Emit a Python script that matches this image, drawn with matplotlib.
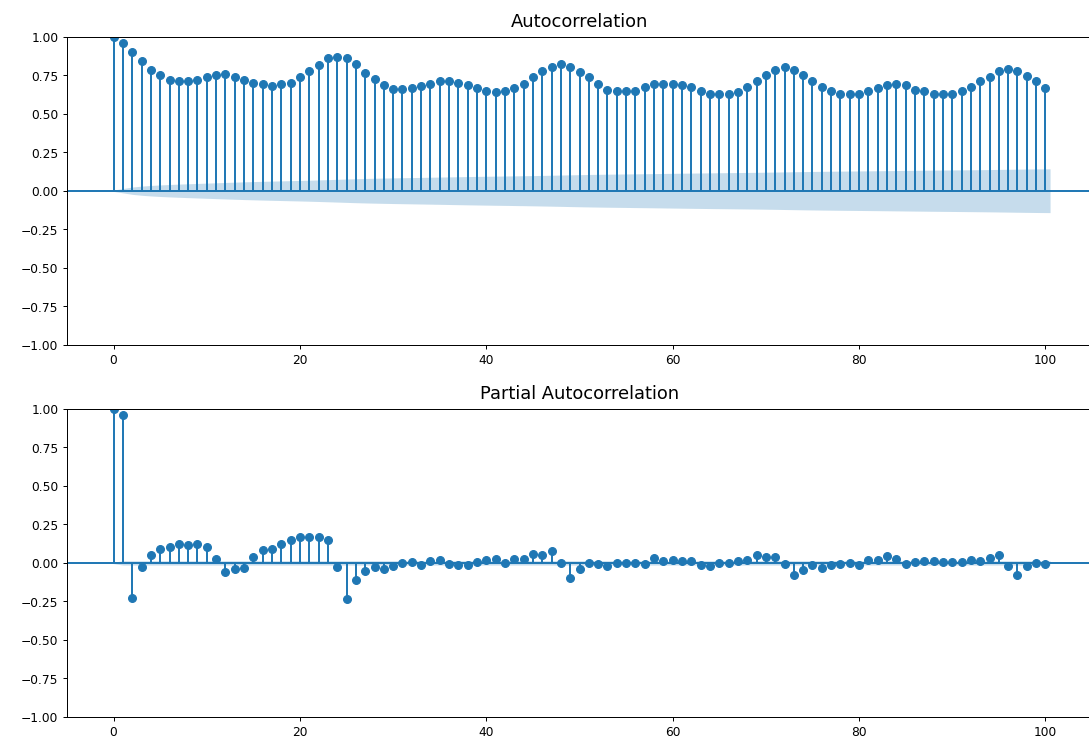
import numpy as np
import matplotlib
matplotlib.use("Agg")
import matplotlib.pyplot as plt

# ---- data ----
acf_values = [
    1.00, 0.96, 0.90, 0.845, 0.785, 0.75, 0.72, 0.71, 0.71, 0.72,
    0.735, 0.75, 0.755, 0.74, 0.72, 0.70, 0.69, 0.68, 0.69, 0.70,
    0.735, 0.775, 0.815, 0.86, 0.87, 0.86, 0.82, 0.765, 0.725, 0.685,
    0.66, 0.66, 0.665, 0.68, 0.695, 0.71, 0.715, 0.70, 0.685, 0.665,
    0.645, 0.64, 0.645, 0.665, 0.695, 0.74, 0.775, 0.805, 0.82, 0.805,
    0.77, 0.735, 0.69, 0.655, 0.645, 0.645, 0.65, 0.67, 0.69, 0.69,
    0.69, 0.685, 0.67, 0.65, 0.63, 0.625, 0.625, 0.64, 0.675, 0.715,
    0.75, 0.785, 0.80, 0.785, 0.75, 0.715, 0.675, 0.645, 0.625, 0.625,
    0.625, 0.65, 0.665, 0.685, 0.69, 0.685, 0.655, 0.645, 0.63, 0.625,
    0.625, 0.645, 0.67, 0.71, 0.74, 0.78, 0.79, 0.775, 0.745, 0.71,
    0.665,
]

pacf_values = [
    1.00, 0.96, -0.23, -0.028, 0.052, 0.09, 0.10, 0.12, 0.113, 0.125,
    0.106, 0.026, -0.056, -0.04, -0.032, 0.041, 0.082, 0.089, 0.12, 0.15,
    0.165, 0.165, 0.171, 0.147, -0.028, -0.236, -0.113, -0.05, -0.028, -0.041,
    -0.02, -0.002, 0.004, -0.013, 0.015, 0.02, -0.004, -0.015, -0.013, 0.004,
    0.022, 0.028, 0.002, 0.028, 0.028, 0.056, 0.05, 0.078, 0.002, -0.097,
    -0.041, -0.002, -0.004, -0.02, -0.002, -0.002, -0.002, -0.01, 0.03, 0.011,
    0.02, 0.013, 0.011, -0.013, -0.02, -0.002, -0.002, 0.011, 0.022, 0.05,
    0.04, 0.04, -0.006, -0.08, -0.048, -0.013, -0.03, -0.013, -0.01, -0.002,
    -0.013, 0.02, 0.02, 0.043, 0.028, -0.006, 0.009, 0.011, 0.011, 0.004,
    0.004, 0.004, 0.02, 0.011, 0.035, 0.05, -0.02, -0.076, -0.017, 0.0,
    -0.009,
]

nobs = 19500          # number of observations behind the correlogram
z_crit = 1.96         # 95% confidence
titles = ["Autocorrelation", "Partial Autocorrelation"]
x_ticks = [0, 20, 40, 60, 80, 100]
y_ticks = [-1.00, -0.75, -0.50, -0.25, 0.00, 0.25, 0.50, 0.75, 1.00]

acf = np.array(acf_values)
pacf = np.array(pacf_values)
lags = np.arange(len(acf))

# Bartlett confidence band for ACF
var_acf = np.ones(len(acf)) / nobs
var_acf[0] = 0
var_acf[2:] *= 1 + 2 * np.cumsum(acf[1:-1] ** 2)
acf_band = z_crit * np.sqrt(var_acf)

# PACF band
pacf_band = np.full(len(pacf), z_crit / np.sqrt(nobs))
pacf_band[0] = 0

DPI = 88.5
fig = plt.figure(figsize=(1089.4 / DPI, 740.4 / DPI), dpi=DPI)

W, H = 1089.0, 740.0
left = 67 / W
width = 1024.6 / W
ax_h = 308 / H
ax1 = fig.add_axes([left, (H - 345) / H, width, ax_h])
ax2 = fig.add_axes([left, (H - 717) / H, width, ax_h])

for ax, vals, band, title in [(ax1, acf, acf_band, titles[0]),
                              (ax2, pacf, pacf_band, titles[1])]:
    ax.vlines(lags, 0, vals, color="C0", linewidth=1.6)
    ax.axhline(0, color="C0", linewidth=1.6)
    ax.plot(lags, vals, marker="o", markersize=6.3, linestyle="None", color="C0")
    flags = lags.astype(float)
    flags[0] -= 0.5
    flags[-1] += 0.5
    ax.fill_between(flags, -band, band, alpha=0.25, color="C0", linewidth=0)
    ax.set_title(title, fontsize=14.5, pad=8.5)
    ax.set_xlim(-5, 105)
    ax.set_ylim(-1, 1)
    ax.set_xticks(x_ticks)
    ax.set_yticks(y_ticks)
    ax.set_yticklabels([f"{v:.2f}".replace("-", "\u2212") for v in y_ticks])

fig.savefig("out.png", dpi=DPI)
